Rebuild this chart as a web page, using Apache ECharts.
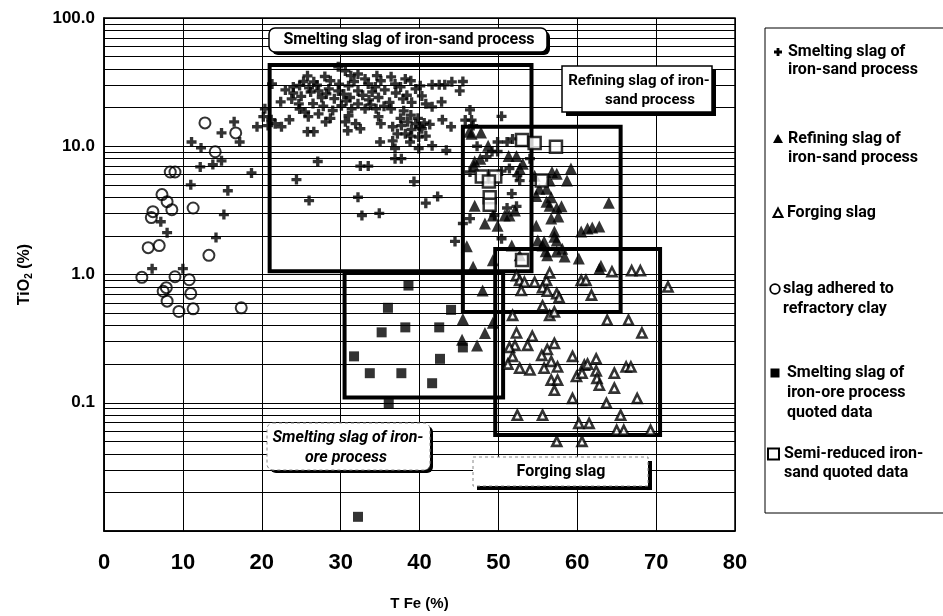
<!DOCTYPE html>
<html><head><meta charset="utf-8">
<script src="https://cdn.jsdelivr.net/npm/echarts/dist/echarts.min.js"></script>
<style>html,body{margin:0;padding:0;background:#fff}#c{width:943px;height:616px}</style>
</head><body><div id="c"></div>
<script>
// ---------- data (T Fe %, TiO2 %) ----------
const smeltingSand = [
[16.5,15.5],[14.9,12.7],[17.2,10.8],[11.1,10.8],[12.3,9.7],[14.9,7.7],[13.8,7.2],[12.2,6.9],[18.7,6.2],[11.0,5.0],[15.7,4.5],[15.2,2.93],[7.2,2.58],[8.0,2.12],[14.2,1.94],[6.1,1.11],[10.0,1.11],
[19.4,14.2],[20.2,17.0],[20.4,19.6],[21.2,16.1],[21.7,15.0],[20.8,14.5],
[29.7,41.6],[30.6,38.7],[32.2,36.6],[25.8,35.4],[21.3,30.6],[23.0,27.5],[24.0,29.0],[24.8,29.8],[25.3,32.0],[26.6,31.8],[28.7,32.4],[27.2,27.0],[26.2,26.5],[28.2,25.6],[29.7,27.0],[31.0,29.6],[32.2,27.0],[33.5,30.6],[33.1,33.5],[34.4,29.0],[35.1,32.4],[36.4,34.8],[36.9,30.6],[38.2,33.5],[38.9,32.4],[40.1,29.6],[41.6,30.1],[42.5,30.1],[43.2,30.1],[44.1,31.8],[45.5,32.0],[45.1,27.0],
[23.8,23.4],[24.7,21.4],[22.4,22.2],[25.5,18.5],[25.9,17.0],[27.2,17.9],[28.1,15.5],[28.7,16.5],[23.5,16.1],[22.5,14.2],[25.8,13.0],[26.6,13.0],[30.7,22.6],[30.1,20.7],[31.4,19.6],[32.2,21.4],[33.1,19.6],[31.0,17.3],[30.6,15.5],[31.9,15.0],[32.5,13.7],[30.9,13.2],[34.5,19.6],[34.8,17.0],[35.1,15.0],[36.4,19.6],[37.9,23.4],[38.0,18.9],[39.5,28.0],[40.3,24.7],[40.8,21.4],[41.6,20.3],[42.8,22.2],[36.6,14.2],[37.7,14.5],[38.5,15.5],[39.5,15.0],[40.3,13.7],[38.2,12.5],[38.9,12.0],[39.9,11.8],[40.8,12.0],[38.8,10.8],[42.9,16.1],[44.0,14.2],[35.0,10.8],[36.6,11.0],[36.9,9.6],[36.9,8.0],[37.7,8.0],[39.9,9.6],[41.6,10.1],[43.4,9.3],[27.1,7.6],[32.5,7.0],[33.5,7.0],[24.4,5.5],[39.3,5.3],[26.0,3.77],[32.2,4.0],[40.8,3.6],[42.3,4.05],[32.7,2.88],[34.9,3.0],
[24.0,26.0],[25.0,24.5],[26.0,28.5],[27.0,30.0],[27.6,24.0],[28.5,28.0],[29.2,23.5],[29.8,30.5],[30.4,25.5],[31.2,24.0],[31.7,32.0],[32.8,25.0],[33.6,23.0],[34.0,26.5],[34.8,24.0],[35.6,27.5],[36.2,22.0],[37.0,26.0],[37.6,29.0],[38.4,25.0],[39.0,22.0],[27.8,20.5],[29.0,19.0],[26.5,21.5],[24.8,19.5],[33.8,21.0],[35.5,20.5],[28.0,35.0],[31.3,35.5],[34.6,35.5],[38.9,17.5],[39.8,16.5],[40.6,15.2],[37.6,16.5],[39.0,13.5],[40.0,14.2],[41.3,14.8],[37.2,12.5],
[46.4,19.2],[50.4,17.1],[45.8,16.0],[46.6,16.0],[46.8,14.5],[47.3,10.0],[49.9,10.8],[51.1,10.8],[49.2,9.1],[49.9,9.1],[48.5,8.3],[51.4,6.7],[50.4,6.4],[52.4,5.9],[52.7,5.4],[46.4,6.3],[51.7,4.27],[52.3,3.4],[51.1,3.3],[49.5,2.88],[45.5,2.5],[50.4,1.9],[54.0,8.0],[51.8,11.4],[46.4,2.73],[44.5,1.81]
];
const refiningSand = [
[46.6,12.5],[46.3,13.0],[47.8,12.8],[48.7,10.1],[47.7,8.0],[47.0,7.6],[46.9,7.0],[52.3,8.4],[51.3,8.4],[52.7,6.7],[53.1,7.3],[54.6,5.9],[55.2,4.67],[54.8,4.1],[56.8,6.3],[56.5,5.4],[57.4,6.1],[47.0,3.44],[48.3,2.5],[49.9,2.4],[50.8,2.88],[51.4,2.88],[49.3,2.88],[52.1,3.15],[56.5,3.44],[57.4,3.3],[56.7,2.73],[57.1,2.16],[54.8,2.4],[55.0,1.84],[55.6,1.68],[56.2,1.41],[57.4,1.84],[58.1,1.59],[51.7,1.68],[52.7,1.41],[49.3,1.29],[46.0,1.66],
[59.2,6.7],[58.7,5.4],[64.0,3.63],[56.7,4.0],[56.1,4.67],[58.0,3.4],[56.1,3.7],[57.6,2.83],[61.3,2.28],[61.9,2.33],[62.8,2.37],[60.5,2.16],[57.1,1.97],[55.8,1.81],[56.0,1.52],[57.4,1.51],[58.4,1.38],[60.2,1.33],[63.0,1.17],[62.8,1.11],
[46.8,1.15],[48.0,0.75],[49.3,0.42],[48.3,0.35],[47.3,0.28],[45.5,0.45],[45.4,0.31]
];
const forging = [
[52.3,0.98],[52.7,0.9],[53.3,0.87],[52.9,0.75],[54.6,0.87],[56.1,0.9],[56.5,1.03],[55.6,0.79],[56.2,0.74],[57.4,0.71],[57.7,0.66],[55.6,0.57],[56.5,0.48],[57.1,0.51],[51.8,0.48],[52.3,0.35],[52.1,0.28],[54.3,0.33],[53.7,0.28],[57.1,0.29],[56.2,0.26],[55.5,0.234],[51.4,0.27],[51.8,0.23],[51.2,0.2],[52.7,0.186],[54.0,0.18],[55.8,0.186],[56.7,0.21],[57.5,0.19],[56.7,0.15],[57.5,0.15],[57.1,0.125],[59.4,0.23],[59.9,0.16],[59.4,0.108],[52.4,0.08],[55.6,0.08],[57.4,0.05],
[64.4,1.05],[66.9,1.07],[68.0,1.07],[60.5,0.9],[61.1,0.9],[61.8,0.69],[71.5,0.8],[63.8,0.44],[66.5,0.44],[68.2,0.35],[60.9,0.196],[61.3,0.2],[62.4,0.22],[60.6,0.17],[62.4,0.177],[62.5,0.155],[62.8,0.137],[64.7,0.17],[66.2,0.19],[66.8,0.19],[64.7,0.13],[63.7,0.099],[67.6,0.108],[65.5,0.08],[60.2,0.069],[61.5,0.069],[65.0,0.061],[65.9,0.061],[69.3,0.061],[60.6,0.05]
];
const adheredClay = [
[12.8,15.2],[16.7,12.7],[14.1,9.06],[8.4,6.3],[9.0,6.3],[7.35,4.2],[8.0,3.7],[8.6,3.2],[11.3,3.3],[6.2,3.09],[6.0,2.78],[7.0,1.68],[5.6,1.62],[13.3,1.41],[4.8,0.95],[9.0,0.96],[10.8,0.91],[7.9,0.79],[7.5,0.74],[11.0,0.71],[8.0,0.62],[9.5,0.515],[11.3,0.54],[17.4,0.55]
];
const smeltingOre = [
[38.6,0.82],[36.0,0.55],[44.0,0.53],[35.2,0.354],[38.2,0.387],[42.5,0.387],[31.7,0.23],[42.6,0.22],[33.7,0.17],[37.7,0.17],[41.6,0.142],[36.1,0.099],[32.2,0.0129],[45.5,0.27]
];
const semiReduced = [
[53.0,11.2],[54.6,10.6],[57.3,9.9],[47.9,5.8],[49.6,5.8],[48.8,5.3],[48.9,4.0],[48.9,3.5],[55.5,5.4],[53.0,1.3]
];
// region boxes: [xMin, xMax, yMin, yMax]
const regSmeltingSand = [21.0, 54.2, 1.06, 43];
const regRefining = [45.5, 65.5, 0.51, 14.2];
const regForging = [49.6, 70.5, 0.056, 1.58];
const regSmeltingOre = [30.5, 50.6, 0.11, 1.04];
// tick labels
const yTickLabels = {'2':'100.0','1':'10.0','0':'1.0','-1':'0.1','-2':''};
const seriesNames = ['Smelting slag of iron-sand process','Refining slag of iron-sand process','Forging slag','slag adhered to refractory clay','Smelting slag of iron-ore process quoted data','Semi-reduced iron-sand quoted data'];

// ---------- chart ----------
const chart = echarts.init(document.getElementById('c'), null, {renderer:'canvas'});
const PLUS = 'path://M3,0H6V3H9V6H6V9H3V6H0V3H3Z';
const minorVals = [];
[0.01,0.1,1,10].forEach(d => { for (let m = 2; m <= 9; m++) minorVals.push(+(d*m).toPrecision(2)); });
const region = r => [{coord:[r[0], r[2]]},{coord:[r[1], r[3]]}];
const LF = 'bold 16px Roboto';

function txt(x, y, s, font, align) {
  return {type:'text', x:x, y:y, z:101, style:{text:s, font:font||LF, fill:'#000', textAlign:align||'left', textVerticalAlign:'middle', align:align||'left', verticalAlign:'middle'}};
}
function rect(x, y, w, h, style, r) {
  return {type:'rect', z:100, shape:{x:x, y:y, width:w, height:h, r:r||0}, style:style};
}
function plusPts(cx, cy, a, b) {
  return [[cx-b,cy-a],[cx+b,cy-a],[cx+b,cy-b],[cx+a,cy-b],[cx+a,cy+b],[cx+b,cy+b],[cx+b,cy+a],[cx-b,cy+a],[cx-b,cy+b],[cx-a,cy+b],[cx-a,cy-b],[cx-b,cy-b]];
}

const graphics = [
  rect(272, 31, 278, 24, {fill:'#000'}, 6),
  rect(269, 28, 278, 24, {fill:'#fff', stroke:'#000', lineWidth:1.5}, 6),
  txt(409, 40, 'Smelting slag of iron-sand process', LF, 'center'),
  rect(566, 70, 150, 46, {fill:'#000'}),
  rect(562, 66, 150, 46, {fill:'#fff', stroke:'#000', lineWidth:1.5}),
  txt(639, 81, 'Refining slag of iron-', 'bold 15px Roboto', 'center'),
  txt(650, 100, 'sand process', 'bold 15px Roboto', 'center'),
  rect(270, 426, 163, 47, {fill:'#000'}, 6),
  rect(267, 423, 163, 47, {fill:'#fff', stroke:'#888', lineWidth:1, lineDash:[3,3]}, 6),
  txt(348, 438, 'Smelting slag of iron-', 'italic bold 16px Roboto', 'center'),
  txt(346, 458, 'ore process', 'italic bold 16px Roboto', 'center'),
  rect(477, 461, 175, 29, {fill:'#000'}),
  rect(473, 457, 175, 29, {fill:'#fff', stroke:'#888', lineWidth:1, lineDash:[3,3]}),
  txt(561, 472, 'Forging slag', LF, 'center'),
  rect(765, 28, 200, 485, {fill:'#fff', stroke:'#000', lineWidth:1}),
  {type:'polygon', z:101, shape:{points:plusPts(778, 52, 4, 1.4)}, style:{fill:'#000'}},
  txt(788, 52, 'Smelting slag of'), txt(788, 70, 'iron-sand process'),
  {type:'polygon', z:101, shape:{points:[[778,134],[773,143],[783,143]]}, style:{fill:'#000'}},
  txt(788, 139, 'Refining slag of'), txt(788, 158, 'iron-sand process'),
  {type:'polygon', z:101, shape:{points:[[778,208.5],[773.5,217],[782.5,217]]}, style:{fill:'#fff', stroke:'#000', lineWidth:2}},
  txt(787, 213, 'Forging slag'),
  {type:'circle', z:101, shape:{cx:775, cy:289, r:4.8}, style:{fill:'#fff', stroke:'#000', lineWidth:1.8}},
  txt(783, 289, 'slag adhered to'), txt(783, 309, 'refractory clay'),
  rect(770.5, 368.5, 9, 9, {fill:'#000'}),
  txt(787, 373, 'Smelting slag of'), txt(787, 393, 'iron-ore process'), txt(787, 413, 'quoted data'),
  rect(768, 448.5, 11, 11, {fill:'#fff', stroke:'#000', lineWidth:2}),
  txt(784, 454, 'Semi-reduced iron-'), txt(784, 473, 'sand quoted data')
];

const option = {
  animation: false,
  grid: {left:104, right:208, top:18, bottom:83, show:true, borderColor:'#000', borderWidth:1.5, backgroundColor:'#fff'},
  xAxis: {
    type:'value', min:0, max:80, interval:10,
    axisLine:{show:true, onZero:false, lineStyle:{color:'#000', width:1.5}},
    axisTick:{show:false},
    splitLine:{show:true, lineStyle:{color:'#000', width:1}},
    axisLabel:{color:'#000', fontFamily:'Liberation Sans', fontWeight:'bold', fontSize:22, margin:21},
    name:'T Fe (%)', nameLocation:'middle', nameGap:65,
    nameTextStyle:{color:'#000', fontFamily:'Liberation Sans', fontWeight:'bold', fontSize:15}
  },
  yAxis: {
    type:'log', logBase:10, min:0.01, max:100, splitNumber:4,
    axisLine:{show:true, lineStyle:{color:'#000', width:1.5}},
    axisTick:{show:false},
    splitLine:{show:true, lineStyle:{color:'#000', width:1}},
    axisLabel:{color:'#000', fontFamily:'Liberation Sans', fontWeight:'bold', fontSize:17, margin:9,
      formatter: v => { const k = String(Math.round(Math.log10(v))); return yTickLabels[k] !== undefined ? yTickLabels[k] : ''; }},
    name:'TiO{sub|2} (%)', nameLocation:'middle', nameRotate:90, nameGap:70,
    nameTextStyle:{color:'#000', fontFamily:'Liberation Sans', fontWeight:'bold', fontSize:16,
      rich:{sub:{fontFamily:'Liberation Sans', fontWeight:'bold', fontSize:10, verticalAlign:'bottom', padding:[8,0,0,0], color:'#000'}}}
  },
  graphic: graphics,
  series: [
    { type:'scatter', name:'grid', data:[], silent:true, z:1,
      markLine:{silent:true, symbol:['none','none'], label:{show:false}, animation:false,
        lineStyle:{color:'#000', width:1, type:'solid'}, emphasis:{disabled:true},
        data: minorVals.map(v => ({yAxis:v}))},
      markArea:{silent:true, label:{show:false},
        itemStyle:{color:'rgba(0,0,0,0)', borderColor:'#000', borderWidth:4},
        data:[region(regSmeltingSand), region(regRefining), region(regForging), region(regSmeltingOre)]}
    },
    { type:'scatter', name:seriesNames[0], data:smeltingSand, symbol:PLUS, symbolSize:10, itemStyle:{color:'#000'}, z:5 },
    { type:'scatter', name:seriesNames[1], data:refiningSand, symbol:'triangle', symbolSize:12, itemStyle:{color:'#000'}, z:5 },
    { type:'scatter', name:seriesNames[2], data:forging, symbol:'triangle', symbolSize:9, itemStyle:{color:'#fff', borderColor:'#000', borderWidth:2.6}, z:6 },
    { type:'scatter', name:seriesNames[3], data:adheredClay, symbol:'circle', symbolSize:11, itemStyle:{color:'rgba(0,0,0,0)', borderColor:'#000', borderWidth:2}, z:6 },
    { type:'scatter', name:seriesNames[4], data:smeltingOre, symbol:'rect', symbolSize:10, itemStyle:{color:'#000'}, z:6 },
    { type:'scatter', name:seriesNames[5], data:semiReduced, symbol:'rect', symbolSize:12, itemStyle:{color:'#fff', borderColor:'#000', borderWidth:2.5}, z:7 }
  ]
};
chart.setOption(option);
</script>
</body></html>
